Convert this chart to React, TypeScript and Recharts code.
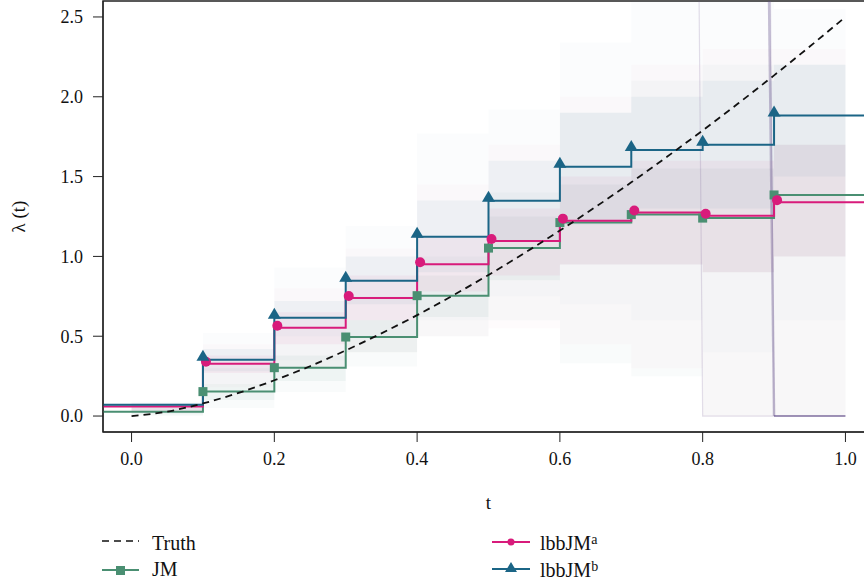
import React from "react";
import { ComposedChart, Line, Area, XAxis, YAxis, ReferenceArea } from "recharts";

// ---- data ----
const stepStarts = [-0.04, 0.1, 0.2, 0.3, 0.4, 0.5, 0.6, 0.7, 0.8, 0.9, 1.04];
const jmMean = [0.027, 0.153, 0.303, 0.495, 0.754, 1.052, 1.212, 1.262, 1.24, 1.385, 1.385];
const lbbAMean = [0.06, 0.328, 0.553, 0.74, 0.951, 1.097, 1.224, 1.275, 1.255, 1.34, 1.34];
const lbbBMean = [0.07, 0.353, 0.615, 0.848, 1.123, 1.348, 1.562, 1.667, 1.699, 1.883, 1.883];
const markerTimes = [0.1, 0.2, 0.3, 0.4, 0.5, 0.6, 0.7, 0.8, 0.9];

const bandStarts = [0, 0.1, 0.2, 0.3, 0.4, 0.5, 0.6, 0.7, 0.8, 0.9, 1.0];
const jmOuter: [number, number][] = [[0.0, 0.05], [0.05, 0.3], [0.15, 0.5], [0.31, 0.75], [0.5, 1.0], [0.6, 1.4], [0.33, 1.9], [0.25, 2.1], [0.0, 2.2], [0.0, 2.2], [0.0, 2.2]];
const aOuter: [number, number][] = [[0.02, 0.08], [0.18, 0.45], [0.3, 0.8], [0.4, 1.05], [0.5, 1.45], [0.55, 1.7], [0.45, 2.0], [0.3, 2.2], [0.0, 2.3], [0.0, 2.3], [0.0, 2.3]];
const bOuter: [number, number][] = [[0.02, 0.09], [0.2, 0.52], [0.35, 0.93], [0.5, 1.19], [0.6, 1.77], [0.75, 1.92], [0.7, 2.34], [0.6, 2.6], [0.4, 2.6], [0.6, 2.55], [0.6, 2.55]];
const jmInner: [number, number][] = [[0.01, 0.04], [0.1, 0.2], [0.22, 0.38], [0.4, 0.6], [0.62, 0.88], [0.85, 1.25], [0.95, 1.45], [0.95, 1.55], [0.9, 1.55], [1.0, 1.7], [1.0, 1.7]];
const aInner: [number, number][] = [[0.03, 0.07], [0.27, 0.38], [0.45, 0.65], [0.6, 0.88], [0.78, 1.12], [0.88, 1.3], [0.95, 1.5], [0.95, 1.6], [0.9, 1.6], [1.0, 1.7], [1.0, 1.7]];
const bInner: [number, number][] = [[0.04, 0.08], [0.28, 0.42], [0.5, 0.72], [0.7, 1.0], [0.9, 1.35], [1.1, 1.6], [1.2, 1.9], [1.3, 2.0], [1.3, 2.1], [1.5, 2.2], [1.5, 2.2]];

const truthT = [0, 0.05, 0.1, 0.15, 0.2, 0.25, 0.3, 0.35, 0.4, 0.45, 0.5, 0.55, 0.6, 0.65, 0.7, 0.75, 0.8, 0.85, 0.9, 0.95, 1.0];
const truthV = [0, 0.028, 0.079, 0.145, 0.224, 0.312, 0.411, 0.518, 0.632, 0.755, 0.884, 1.02, 1.162, 1.31, 1.464, 1.624, 1.789, 1.959, 2.134, 2.315, 2.5];

const repAT = [0.795, 0.8, 0.9, 0.895];
const repAV = [2.6, 0.0, 0.0, 2.6];
const repBT = [0.893, 0.9];
const repBV = [2.6, 0.0];
const repCT = [0.9, 1.0];
const repCV = [0.0, 0.0];

const xTicks = [0, 0.2, 0.4, 0.6, 0.8, 1.0];
const yTicks = [0, 0.5, 1.0, 1.5, 2.0, 2.5];

const GREEN = "#4a8f72";
const PINK = "#d81b7b";
const BLUE = "#1b6586";
const FONT = "'Liberation Serif', 'DejaVu Serif', serif";

const stepData = (vals: number[]) => stepStarts.map((t, i) => ({ t, v: vals[i] }));
const bandData = (b: [number, number][]) => bandStarts.map((t, i) => ({ t, r: b[i] }));
const pairData = (ts: number[], vs: number[]) => ts.map((t, i) => ({ t, v: vs[i] }));

const isMarker = (t: number) => markerTimes.some((m) => Math.abs(m - t) < 1e-9);

const squareDot = (p: any) => {
  if (!isMarker(p.payload.t)) return <g key={p.key} />;
  return <rect key={p.key} x={p.cx - 4.5} y={p.cy - 4.5} width={9} height={9} fill={GREEN} />;
};
const circleDot = (p: any) => {
  if (!isMarker(p.payload.t)) return <g key={p.key} />;
  return <circle key={p.key} cx={p.cx + 3} cy={p.cy - 2} r={5} fill={PINK} />;
};
const triDot = (p: any) => {
  if (!isMarker(p.payload.t)) return <g key={p.key} />;
  const { cx, cy } = p;
  return <polygon key={p.key} points={`${cx},${cy - 10} ${cx - 6.5},${cy + 1} ${cx + 6.5},${cy + 1}`} fill={BLUE} />;
};

const YLabel = (props: any) => {
  const vb = props.viewBox;
  const x = vb.x + 25;
  const y = vb.y + vb.height / 2;
  return (
    <text x={x} y={y} transform={`rotate(-90 ${x} ${y})`} textAnchor="middle" fontSize={19} fontFamily={FONT} fill="#111">
      λ (t)
    </text>
  );
};

const Legend = () => (
  <svg width={864} height={586} style={{ position: "absolute", left: 0, top: 0, pointerEvents: "none" }}>
    <g fontFamily={FONT} fontSize={20} fill="#111">
      <line x1={102} x2={139} y1={541} y2={541} stroke="#111" strokeWidth={1.5} strokeDasharray="7 5" />
      <text x={152} y={550}>Truth</text>
      <line x1={102} x2={139} y1={570} y2={570} stroke={GREEN} strokeWidth={2} />
      <rect x={116} y={566} width={9} height={9} fill={GREEN} />
      <text x={152} y={576}>JM</text>
      <line x1={492} x2={530} y1={542} y2={542} stroke={PINK} strokeWidth={2} />
      <circle cx={511} cy={542} r={3.5} fill={PINK} />
      <text x={540} y={550}>lbbJM<tspan fontSize={14} dy={-6}>a</tspan></text>
      <line x1={492} x2={530} y1={569} y2={569} stroke={BLUE} strokeWidth={2} />
      <polygon points="511,562 505,572 517,572" fill={BLUE} />
      <text x={540} y={577}>lbbJM<tspan fontSize={14} dy={-6}>b</tspan></text>
    </g>
  </svg>
);

export default function App() {
  const tickStyle = { fontSize: 18, fontFamily: FONT, fill: "#111" };
  return (
    <div style={{ position: "fixed", left: 0, top: 0, width: 864, height: 586, overflow: "hidden", background: "#fff" }}>
      <ComposedChart width={874} height={586} margin={{ top: 1, right: 0, bottom: 0, left: 0 }}>
        <XAxis
          type="number"
          dataKey="t"
          domain={[-0.04, 1.04]}
          allowDataOverflow
          ticks={xTicks}
          tickFormatter={(v: number) => v.toFixed(1)}
          tick={tickStyle}
          tickSize={10}
          tickMargin={10}
          height={154}
          stroke="#222"
          label={{ value: "t", position: "insideTop", offset: 64, fontSize: 19, fontFamily: FONT, fill: "#111" }}
        />
        <YAxis
          type="number"
          dataKey="v"
          domain={[-0.1, 2.6]}
          allowDataOverflow
          ticks={yTicks}
          tickFormatter={(v: number) => v.toFixed(1)}
          tick={tickStyle}
          tickSize={10}
          tickMargin={10}
          width={103}
          stroke="#222"
          label={{ content: YLabel }}
        />
        <ReferenceArea x1={-0.04} x2={1.04} y1={-0.1} y2={2.6} fill="none" stroke="#222" strokeWidth={1.5} />

        <Area data={bandData(jmOuter)} dataKey="r" type="stepAfter" fill={GREEN} fillOpacity={0.03} stroke="none" isAnimationActive={false} />
        <Area data={bandData(aOuter)} dataKey="r" type="stepAfter" fill={PINK} fillOpacity={0.02} stroke="none" isAnimationActive={false} />
        <Area data={bandData(bOuter)} dataKey="r" type="stepAfter" fill={BLUE} fillOpacity={0.02} stroke="none" isAnimationActive={false} />
        <Area data={bandData(jmInner)} dataKey="r" type="stepAfter" fill={GREEN} fillOpacity={0.06} stroke="none" isAnimationActive={false} />
        <Area data={bandData(aInner)} dataKey="r" type="stepAfter" fill={PINK} fillOpacity={0.05} stroke="none" isAnimationActive={false} />
        <Area data={bandData(bInner)} dataKey="r" type="stepAfter" fill={BLUE} fillOpacity={0.05} stroke="none" isAnimationActive={false} />

        <Line data={pairData(repAT, repAV)} dataKey="v" type="linear" stroke="#7a5f98" strokeOpacity={0.2} strokeWidth={1.2} dot={false} isAnimationActive={false} />
        <Line data={pairData(repBT, repBV)} dataKey="v" type="linear" stroke="#5f4a88" strokeOpacity={0.35} strokeWidth={2.5} dot={false} isAnimationActive={false} />
        <Line data={pairData(repCT, repCV)} dataKey="v" type="linear" stroke="#5f4a88" strokeOpacity={0.8} strokeWidth={1.6} dot={false} isAnimationActive={false} />

        <Line data={stepData(jmMean)} dataKey="v" type="stepAfter" stroke={GREEN} strokeWidth={2} dot={squareDot} isAnimationActive={false} />
        <Line data={stepData(lbbAMean)} dataKey="v" type="stepAfter" stroke={PINK} strokeWidth={2} dot={circleDot} isAnimationActive={false} />
        <Line data={stepData(lbbBMean)} dataKey="v" type="stepAfter" stroke={BLUE} strokeWidth={2} dot={triDot} isAnimationActive={false} />

        <Line data={pairData(truthT, truthV)} dataKey="v" type="monotone" stroke="#111" strokeWidth={1.8} strokeDasharray="7 5" dot={false} isAnimationActive={false} />
      </ComposedChart>
      <Legend />
    </div>
  );
}
